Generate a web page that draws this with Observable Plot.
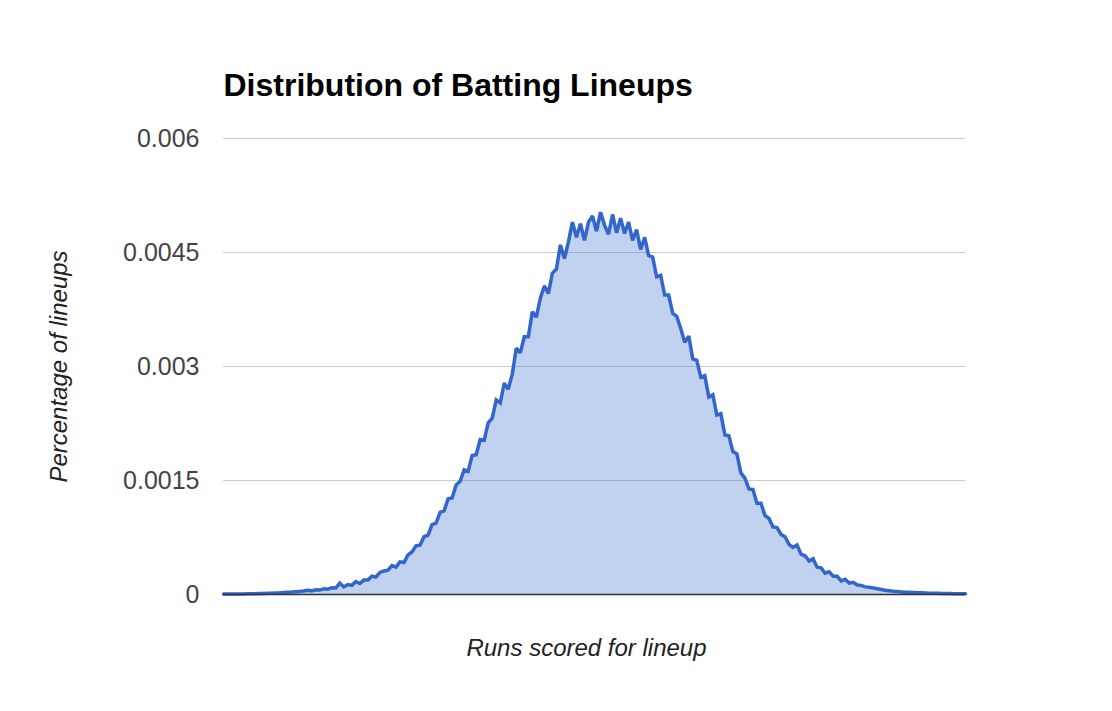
<!DOCTYPE html>
<html>
<head>
<meta charset="utf-8">
<script src="https://cdn.jsdelivr.net/npm/d3@7"></script>
<script src="https://cdn.jsdelivr.net/npm/@observablehq/plot@0.6"></script>
<style>
  html, body { margin: 0; padding: 0; background: #fff; }
  #chart { width: 1112px; height: 711px; }
</style>
</head>
<body>
<div id="chart"></div>
<script>
// Text
const chartTitle = "Distribution of Batting Lineups";
const xTitle = "Runs scored for lineup";
const yTitle = "Percentage of lineups";

// Y axis ticks
const yTicks = [0, 0.0015, 0.003, 0.0045, 0.006];
const yTickLabels = ["0", "0.0015", "0.003", "0.0045", "0.006"];

// Share of lineups per run bucket (left to right)
const lineupShare = [
  0.000005, 0.000005, 0.000006, 0.000007, 0.000008, 0.000008, 0.000009, 0.000010, 0.000011, 0.000012,
  0.000014, 0.000015, 0.000017, 0.000019, 0.000020, 0.000025, 0.000030, 0.000032, 0.000036, 0.000040,
  0.000045, 0.000055, 0.000048, 0.000062, 0.000058, 0.000075, 0.000070, 0.000090, 0.000085, 0.000150,
  0.000100, 0.000130, 0.000120, 0.000170, 0.000145, 0.000190, 0.000190, 0.000240, 0.000230, 0.000290,
  0.000310, 0.000320, 0.000380, 0.000360, 0.000430, 0.000420, 0.000520, 0.000560, 0.000640, 0.000650,
  0.000760, 0.000780, 0.000920, 0.000940, 0.001080, 0.001100, 0.001260, 0.001270, 0.001440, 0.001490,
  0.001640, 0.001620, 0.001830, 0.001840, 0.002040, 0.002030, 0.002260, 0.002320, 0.002560, 0.002520,
  0.002780, 0.002700, 0.002900, 0.003240, 0.003180, 0.003390, 0.003390, 0.003720, 0.003650, 0.003900,
  0.004060, 0.003960, 0.004230, 0.004280, 0.004600, 0.004420, 0.004640, 0.004900, 0.004700, 0.004880,
  0.004660, 0.004900, 0.004980, 0.004780, 0.005030, 0.004860, 0.004740, 0.005000, 0.004760, 0.004950,
  0.004750, 0.004900, 0.004660, 0.004800, 0.004540, 0.004700, 0.004460, 0.004440, 0.004180, 0.004200,
  0.003940, 0.003940, 0.003700, 0.003660, 0.003500, 0.003320, 0.003400, 0.003100, 0.003080, 0.002860,
  0.002880, 0.002600, 0.002630, 0.002360, 0.002380, 0.002100, 0.002090, 0.001880, 0.001850, 0.001600,
  0.001530, 0.001390, 0.001380, 0.001200, 0.001200, 0.001040, 0.001000, 0.000890, 0.000880, 0.000790,
  0.000760, 0.000660, 0.000620, 0.000650, 0.000530, 0.000510, 0.000440, 0.000470, 0.000360, 0.000350,
  0.000280, 0.000300, 0.000240, 0.000240, 0.000180, 0.000200, 0.000150, 0.000160, 0.000125, 0.000120,
  0.000100, 0.000095, 0.000085, 0.000075, 0.000065, 0.000055, 0.000048, 0.000042, 0.000038, 0.000034,
  0.000030, 0.000028, 0.000026, 0.000024, 0.000022, 0.000020, 0.000018, 0.000016, 0.000015, 0.000014,
  0.000013, 0.000012, 0.000011, 0.000010, 0.000010, 0.000009
];

const runBucket = lineupShare.map((_, i) => i);
const rows = lineupShare.map((v, i) => ({bucket: runBucket[i], share: v}));

const blue = "#3366cc";

const chart = Plot.plot({
  width: 1112,
  height: 711,
  marginLeft: 223,
  marginRight: 147,
  marginTop: 138,
  marginBottom: 117,
  style: {fontFamily: "'Liberation Sans', Arial, Helvetica, sans-serif", background: "#fff", color: "#444", overflow: "visible"},
  x: {domain: [0, runBucket[runBucket.length - 1]], axis: null},
  y: {domain: [0, 0.006], axis: null},
  marks: [
    Plot.gridY(yTicks.slice(1), {stroke: "#cccccc", strokeOpacity: 1, strokeWidth: 1.2}),
    Plot.areaY(rows, {x: "bucket", y: "share", fill: blue, fillOpacity: 0.3}),
    Plot.lineY(rows, {x: "bucket", y: "share", stroke: blue, strokeWidth: 3.5, strokeLinejoin: "miter", strokeMiterlimit: 2}),
    Plot.ruleY([0], {stroke: "#333333", strokeWidth: 1.5}),
    Plot.axisY(yTicks, {
      anchor: "left", tickSize: 0, tickPadding: 24, fontSize: 25, label: null,
      tickFormat: (d) => yTickLabels[yTicks.indexOf(d)]
    }),
    Plot.text([chartTitle], {
      frameAnchor: "top-left", textAnchor: "start", lineAnchor: "middle",
      dy: -53, fontSize: 32, fontWeight: "bold", fill: "#000"
    }),
    Plot.text([yTitle], {
      frameAnchor: "left", textAnchor: "middle", lineAnchor: "middle", rotate: -90,
      dx: -164, fontSize: 24, fontStyle: "italic", fill: "#222"
    }),
    Plot.text([xTitle], {
      frameAnchor: "bottom", textAnchor: "middle", lineAnchor: "middle",
      dx: -8, dy: 54, fontSize: 24, fontStyle: "italic", fill: "#222"
    })
  ]
});

document.getElementById("chart").appendChild(chart);
</script>
</body>
</html>
